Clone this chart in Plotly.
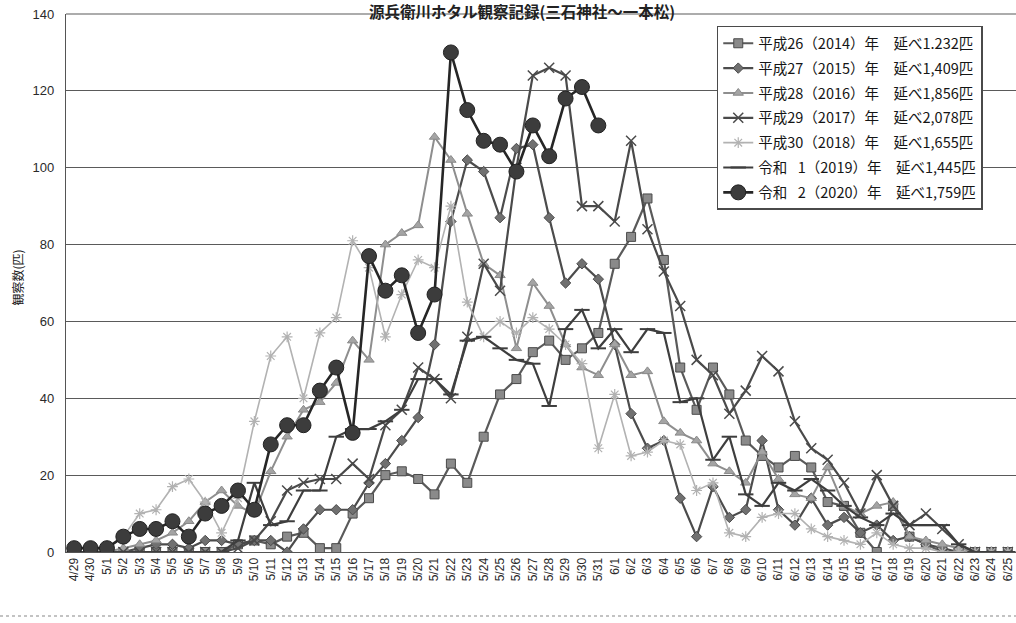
import plotly.graph_objects as go

dates = ["4/29", "4/30"] + [f"5/{d}" for d in range(1, 32)] + [f"6/{d}" for d in range(1, 26)]

y2014 = [0, 0, 0, 0, 0, 0, 0, 0, 0, 0, 2, 3, 2, 4, 5, 1, 1, 10, 14, 20, 21, 19, 15, 23, 18, 30, 41, 45,
         52, 55, 50, 53, 57, 75, 82, 92, 76, 48, 37, 48, 41, 29, 25, 22, 25, 22, 13, 12, 5, 0, 12, 4, 2,
         0, 0, 0, 0, 0]
y2015 = [0, 0, 0, 0, 1, 2, 2, 1, 3, 3, 2, 3, 3, 0, 6, 11, 11, 11, 18, 23, 29, 35, 54, 86, 102, 99, 87,
         105, 106, 87, 70, 75, 71, 54, 36, 27, 29, 14, 4, 17, 9, 11, 29, 11, 7, 14, 7, 9, 5, 7, 3, 4, 2,
         1, 0, 0, 0, 0]
y2016 = [0, 0, 0, 1, 2, 3, 5, 8, 13, 16, 12, 10, 21, 30, 37, 39, 44, 55, 50, 80, 83, 85, 108, 102, 88,
         75, 72, 53, 70, 64, 54, 48, 46, 54, 46, 47, 34, 31, 29, 23, 21, 18, 26, 19, 15, 14, 22, 12, 10,
         12, 13, 4, 3, 2, 1, 0, 0, 0]
y2017 = [0, 0, 0, 0, 0, 0, 0, 0, 0, 0, 1, 3, 8, 16, 18, 19, 19, 23, 19, 33, 37, 48, 45, 40, 56, 75, 68,
         100, 124, 126, 124, 90, 90, 86, 107, 84, 73, 64, 50, 46, 36, 42, 51, 47, 34, 27, 24, 18, 10, 20,
         12, 7, 10, 6, 2, 0, 0, 0]
y2018 = [0, 0, 1, 4, 10, 11, 17, 19, 13, 5, 14, 34, 51, 56, 40, 57, 61, 81, 74, 56, 67, 76, 74, 90, 65,
         56, 60, 57, 61, 58, 54, 49, 27, 41, 25, 26, 29, 28, 16, 18, 5, 4, 9, 10, 10, 6, 4, 3, 2, 5, 2, 1,
         1, 0, 0, 0, 0, 0]
y2019 = [0, 0, 0, 0, 0, 0, 0, 0, 0, 0, 3, 18, 7, 8, 16, 16, 30, 32, 32, 34, 37, 45, 45, 41, 55, 56, 53,
         50, 49, 38, 58, 63, 53, 58, 52, 58, 57, 39, 40, 24, 30, 15, 12, 18, 16, 19, 16, 12, 9, 7, 10, 7,
         7, 7, 2, 0, 0, 0]
y2020 = [1, 1, 1, 4, 6, 6, 8, 4, 10, 12, 16, 11, 28, 33, 33, 42, 48, 31, 77, 68, 72, 57, 67, 130, 115,
         107, 106, 99, 111, 103, 118, 121, 111] + [None] * 25

names = [
    "平成26（2014）年　延べ1.232匹",
    "平成27（2015）年　延べ1,409匹",
    "平成28（2016）年　延べ1,856匹",
    "平成29（2017）年　延べ2,078匹",
    "平成30（2018）年　延べ1,655匹",
    "令和\u2002 1（2019）年　延べ1,445匹",
    "令和\u2002 2（2020）年　延べ1,759匹",
]
title_text = "源兵衛川ホタル観察記録(三石神社〜一本松)"
ytitle_text = "観察数(匹)"

series = [y2014, y2015, y2016, y2017, y2018, y2019, y2020]
styles = [
    dict(line=dict(color="#5a5a5a", width=2.2),
         marker=dict(symbol="square", size=9, color="#8a8a8a", line=dict(color="#4a4a4a", width=1))),
    dict(line=dict(color="#4c4c4c", width=2.2),
         marker=dict(symbol="diamond", size=8, color="#707070", line=dict(color="#4a4a4a", width=1))),
    dict(line=dict(color="#8e8e8e", width=2),
         marker=dict(symbol="triangle-up", size=9, color="#a4a4a4", line=dict(color="#8a8a8a", width=1))),
    dict(line=dict(color="#4a4a4a", width=2.2),
         marker=dict(symbol="x-thin-open", size=10, color="#4a4a4a", line=dict(color="#4a4a4a", width=1.5))),
    dict(line=dict(color="#b2b2b2", width=1.6),
         marker=dict(symbol="asterisk-open", size=9, color="#b2b2b2", line=dict(color="#b2b2b2", width=1.2))),
    dict(line=dict(color="#3e3e3e", width=2.2),
         marker=dict(symbol="line-ew-open", size=11, color="#3e3e3e", line=dict(color="#3e3e3e", width=2))),
    dict(line=dict(color="#262626", width=2.6),
         marker=dict(symbol="circle", size=15, color="#3c3c3c", line=dict(color="#222222", width=1))),
]

fig = go.Figure()
for i, (vals, name, st) in enumerate(zip(series, names, styles)):
    fig.add_trace(go.Scatter(x=dates, y=vals, name=name, mode="lines+markers",
                             line=st["line"], marker=st["marker"], legendgroup=f"g{i}"))

font_family = "Liberation Sans, Arial, Noto Sans CJK JP, sans-serif"
cjk = "Noto Sans CJK JP, sans-serif"

fig.update_layout(
    width=1016, height=623,
    margin=dict(l=66, r=0, t=14, b=71),
    paper_bgcolor="white", plot_bgcolor="white",
    font=dict(family=font_family, color="#2a2a2a"),
    showlegend=True,
    legend=dict(
        x=0.685, y=0.978, xanchor="left", yanchor="top",
        bgcolor="white", bordercolor="#4a4a4a", borderwidth=1.5,
        font=dict(size=14.5, family=cjk, color="#151515"),
        traceorder="grouped", tracegroupgap=3,
        itemwidth=30,
    ),
    xaxis=dict(
        type="category", range=[-0.5, len(dates) - 0.5],
        tickangle=-90, tickfont=dict(size=12, color="#2a2a2a"),
        showgrid=False, showline=True, linecolor="#555555", linewidth=1.3,
        ticks="", zeroline=False, automargin=False,
    ),
    yaxis=dict(
        range=[0, 140], dtick=20, tickfont=dict(size=13, color="#2a2a2a"),
        showgrid=True, gridcolor="#5a5a5a", gridwidth=1.2,
        showline=True, linecolor="#555555", linewidth=1.3,
        ticks="", zeroline=False, ticklabelstandoff=8, automargin=False,
    ),
    annotations=[
        dict(text=f"<b>{title_text}</b>", xref="paper", yref="paper", x=0.48, y=1 + 16 / 538,
             xanchor="center", yanchor="top", showarrow=False,
             font=dict(size=15.5, family=cjk, color="#222222")),
        dict(text=ytitle_text, xref="paper", yref="paper", x=-48 / 950, y=0.51,
             xanchor="center", yanchor="middle", textangle=-90, showarrow=False,
             font=dict(size=12, family=cjk, color="#222222")),
    ],
    shapes=[
        dict(type="line", xref="paper", yref="paper", x0=0, x1=1, y0=1, y1=1,
             line=dict(color="#5a5a5a", width=1.2)),
        dict(type="line", xref="paper", yref="paper", x0=-66 / 950, x1=1, y0=-64 / 538, y1=-64 / 538,
             line=dict(color="#888888", width=1.2, dash="dot")),
    ],
)

fig.write_html("out.html", config={"displayModeBar": False},
               post_script="document.body.style.margin='0';")
